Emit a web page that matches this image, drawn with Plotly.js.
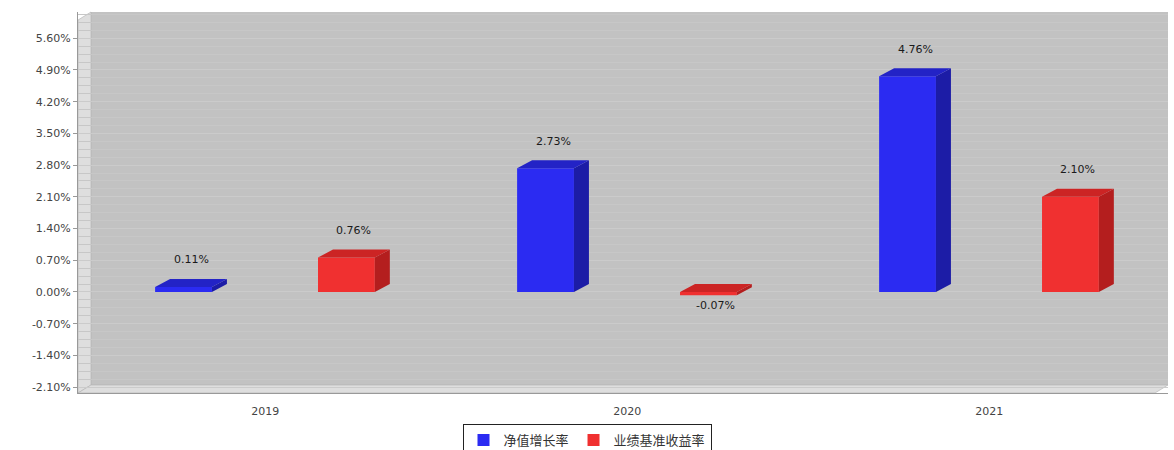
<!DOCTYPE html>
<html>
<head>
<meta charset="utf-8">
<script src="https://cdn.plot.ly/plotly-3.0.1.min.js"></script>
<style>html,body{margin:0;padding:0;background:#fff;}#chart{width:1174px;height:450px;}</style>
</head>
<body>
<div id="chart"></div>
<script>
// ---- data ----
const years = ['2019', '2020', '2021'];
const navGrowth = [0.11, 2.73, 4.76];
const benchmark = [0.76, -0.07, 2.10];
const seriesNames = ['净值增长率', '业绩基准收益率'];
const yTickVals = [-2.1, -1.4, -0.7, 0, 0.7, 1.4, 2.1, 2.8, 3.5, 4.2, 4.9, 5.6];

// ---- style ----
const barW = 0.157;
const offsets = [-0.304, 0.146];
const dx = 0.0414, dy = 0.177;   // 3D depth offset in axis units
const palette = [
  {front: '#2b2bf2', top: '#2323c6', side: '#1c1ca6'},
  {front: '#f03030', top: '#cc2424', side: '#b41e1e'}
];
const idx = years.map((_, i) => i);
const seriesVals = [navGrowth, benchmark];

const traces = [];
const annotations = [];
seriesVals.forEach((vals, s) => {
  const c = palette[s];
  const sx = [], sy = [], tx = [], ty = [];
  vals.forEach((v, i) => {
    const x0 = i + offsets[s], x1 = x0 + barW;
    const hi = Math.max(v, 0), lo = Math.min(v, 0);
    sx.push(x1, x1, x1 + dx, x1 + dx, x1, null);
    sy.push(lo, hi, hi + dy, lo + dy, lo, null);
    tx.push(x0, x1, x1 + dx, x0 + dx, x0, null);
    ty.push(hi, hi, hi + dy, hi + dy, hi, null);
    annotations.push({
      x: x0 + barW / 2 + dx / 2, y: v >= 0 ? hi : lo,
      xref: 'x', yref: 'y', text: v.toFixed(2) + '%', showarrow: false,
      yshift: v >= 0 ? 27 : -10, yanchor: 'middle',
      font: {family: 'DejaVu Sans, Arial', size: 11, color: '#1a1a1a'}
    });
  });
  traces.push({
    type: 'bar', x: idx, y: vals, name: seriesNames[s],
    width: barW, offset: offsets[s],
    marker: {color: c.front, line: {width: 0}},
    hoverinfo: 'skip'
  });
  traces.push({
    type: 'scatter', mode: 'lines', x: sx, y: sy, fill: 'toself',
    fillcolor: c.side, line: {width: 0, color: c.side},
    showlegend: false, hoverinfo: 'skip'
  });
  traces.push({
    type: 'scatter', mode: 'lines', x: tx, y: ty, fill: 'toself',
    fillcolor: c.top, line: {width: 0, color: c.top},
    showlegend: false, hoverinfo: 'skip'
  });
});

// wall geometry in paper units (plot area 1090 x 381 px)
const wx = 13 / 1090, wy = 8 / 381;
const shapes = [
  {type: 'rect', xref: 'paper', yref: 'paper', x0: wx, x1: 1, y0: wy, y1: 1,
   fillcolor: '#c2c2c2', line: {width: 0}, layer: 'below'},
  {type: 'path', xref: 'paper', yref: 'paper',
   path: `M0,0 L0,${1 - wy} L${wx},1 L${wx},${wy} Z`,
   fillcolor: '#dedede', line: {width: 0.6, color: '#b0b0b0'}, layer: 'below'},
  {type: 'path', xref: 'paper', yref: 'paper',
   path: `M0,0 L${1 - wx},0 L1,${wy} L${wx},${wy} Z`,
   fillcolor: '#dedede', line: {width: 0.6, color: '#b0b0b0'}, layer: 'below'}
];

const layout = {
  width: 1174, height: 450,
  margin: {l: 78, r: 6, t: 12, b: 57, autoexpand: false},
  paper_bgcolor: '#ffffff', plot_bgcolor: '#ffffff',
  showlegend: true,
  legend: {
    orientation: 'h', x: 0.5, xanchor: 'center', xref: 'container',
    y: 1 - 424 / 450, yanchor: 'top', yref: 'container',
    bordercolor: '#222', borderwidth: 1, bgcolor: '#fff',
    font: {family: 'Noto Sans CJK SC', size: 13, color: '#333'},
    itemwidth: 30, tracegroupgap: 0
  },
  xaxis: {
    range: [-0.517, 2.494], tickmode: 'array', tickvals: idx, ticktext: years,
    showgrid: false, zeroline: false, showline: true, linecolor: '#999',
    ticks: 'outside', ticklen: 8, tickcolor: 'rgba(0,0,0,0)', fixedrange: true,
    tickfont: {family: 'DejaVu Sans, Arial', size: 11, color: '#444'}
  },
  yaxis: {
    range: [-2.23, 6.18], tickmode: 'array', tickvals: yTickVals,
    ticktext: yTickVals.map(v => v.toFixed(2) + '%'),
    showgrid: true, gridcolor: '#cbcbcb', gridwidth: 1,
    zeroline: false, showline: true, linecolor: '#999',
    ticks: 'outside', ticklen: 4, tickcolor: '#999',
    tickfont: {family: 'DejaVu Sans, Arial', size: 11, color: '#444'},
    minor: {showgrid: true, gridcolor: '#c7c7c7', dtick: 0.175, ticks: ''},
    fixedrange: true
  },
  barmode: 'overlay',
  shapes: shapes,
  annotations: annotations
};

Plotly.newPlot('chart', traces, layout, {displayModeBar: false, staticPlot: true});
</script>
</body>
</html>
